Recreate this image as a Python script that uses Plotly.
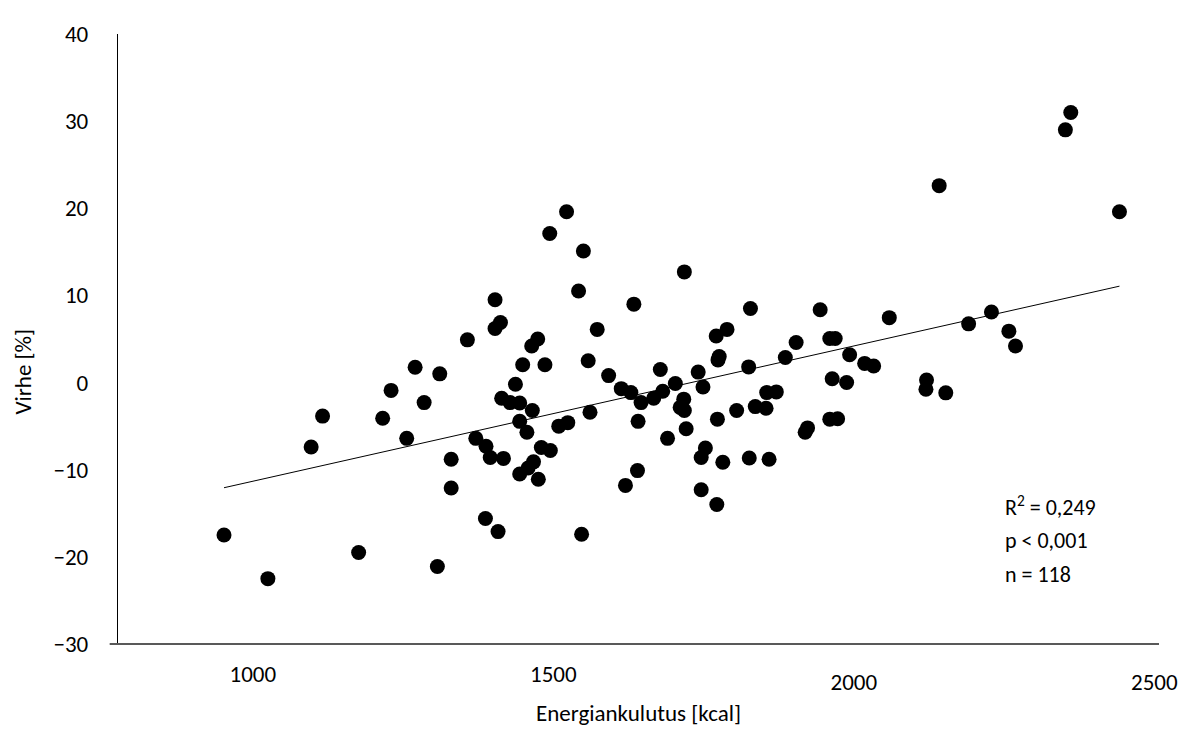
import numpy as np
import plotly.graph_objects as go

# Energy intake (kcal) and error (%)
energy = [952, 1025, 1097, 1116, 1176, 1216, 1230, 1270, 1256, 1285,
          1311, 1330, 1330, 1307, 1357, 1371, 1388, 1395, 1417, 1387,
          1408, 1403, 1412, 1403, 1414, 1428, 1444, 1437, 1449, 1444,
          1456, 1465, 1464, 1474, 1486, 1444, 1458, 1467, 1475, 1480,
          1495, 1509, 1524, 1542, 1573, 1558, 1561, 1547, 1592, 1634,
          1613, 1629, 1646, 1641, 1640, 1620, 1690, 1667, 1678, 1682,
          1703, 1717, 1711, 1718, 1721, 1741, 1749, 1753, 1746, 1746,
          1772, 1771, 1789, 1776, 1774, 1773, 1782, 1805, 1828, 1825,
          1836, 1854, 1826, 1859, 1855, 1871, 1886, 1904, 1923, 1919,
          1944, 1960, 1969, 1964, 1960, 1973, 1993, 1988, 2018, 2033,
          2059, 2121, 2120,
          2142, 2153, 2191, 2229, 2258, 2269, 2442,
          1522, 1494, 1550, 1718, 2352, 2361]
error = [-17.5, -22.5, -7.4, -3.85, -19.5, -4.1, -0.9, 1.75, -6.4, -2.3,
         1.0, -8.8, -12.1, -21.1, 4.9, -6.4, -7.3, -8.6, -8.7, -15.6,
         -17.1, 9.5, 6.9, 6.2, -1.8, -2.3, -2.35, -0.2, 2.05, -4.45,
         -5.7, -3.2, 4.2, 5.0, 2.05, -10.5, -9.8, -9.1, -11.1, -7.45,
         -7.8, -5.0, -4.6, 10.5, 6.1, 2.5, -3.4, -17.4, 0.8, 9.0,
         -0.7, -1.15, -2.3, -4.45, -10.1, -11.8, -6.4, -1.8, 1.5, -1.0,
         -0.1, -1.9, -2.85, -3.2, -5.3, 1.2, -0.5, -7.5, -8.6, -12.3,
         -14.0, 5.35, 6.1, 3.0, 2.6, -4.2, -9.15, -3.2, 8.5, 1.8,
         -2.76, -2.95, -8.65, -8.8, -1.15, -1.07, 2.87, 4.6, -5.2, -5.7,
         8.35, 5.05, 5.05, 0.43, -4.2, -4.15, 3.2, 0.0, 2.2, 1.9,
         7.45, 0.3, -0.77,
         22.6, -1.18, 6.74, 8.1, 5.9, 4.2, 19.6,
         19.6, 17.1, 15.1, 12.7, 29.0, 31.0]

x_ticks_upper = [1000, 1500]
x_ticks_lower = [2000, 2500]
y_ticks = [-30, -20, -10, 0, 10, 20, 30, 40]
x_title = "Energiankulutus [kcal]"
y_title = "Virhe [%]"
stats_lines = ["R<sup>2</sup> = 0,249", "p < 0,001", "n = 118"]

FONT = "Calibri, Carlito, Lato, sans-serif"

x = np.array(energy, dtype=float)
y = np.array(error, dtype=float)
slope, intercept = np.polyfit(x, y, 1)
trend_x = [x.min(), x.max()]
trend_y = [slope * v + intercept for v in trend_x]

fig = go.Figure()
fig.add_trace(go.Scatter(
    x=energy, y=error, mode="markers",
    marker=dict(color="black", size=15, line=dict(width=0)),
    showlegend=False, hoverinfo="x+y"))
fig.add_trace(go.Scatter(
    x=trend_x, y=trend_y, mode="lines", xaxis="x2",
    line=dict(color="black", width=1),
    showlegend=False, hoverinfo="skip"))

xr = [775.6, 2507.8]
tickfont = dict(family=FONT, size=23, color="black")
fig.update_layout(
    width=1182, height=730,
    margin=dict(l=110, r=22.3, t=14, b=94.3),
    paper_bgcolor="white", plot_bgcolor="white",
    font=dict(family=FONT, size=22, color="black"),
    xaxis=dict(range=xr, tickvals=x_ticks_upper, ticks="",
               showline=False, showgrid=False, zeroline=False,
               ticklabelstandoff=14, tickfont=tickfont,
               title=dict(text=x_title, standoff=17,
                          font=dict(family=FONT, size=23, color="black"))),
    xaxis2=dict(range=xr, overlaying="x", anchor="y", side="bottom",
                tickvals=x_ticks_lower, ticks="", showline=False,
                showgrid=False, zeroline=False, ticklabelstandoff=22,
                tickfont=tickfont),
    yaxis=dict(range=[-30, 40], tickvals=y_ticks, ticks="",
               showline=True, linecolor="black", linewidth=1.3,
               showgrid=False, zeroline=False, ticklabelstandoff=24,
               tickfont=tickfont),
    shapes=[dict(type="line", xref="paper", yref="paper",
                 x0=-0.008, x1=1.0, y0=0, y1=0,
                 line=dict(color="#595959", width=2.2), layer="above")],
)

fig.add_annotation(text=y_title, textangle=-90, xref="paper", yref="paper",
                   x=-0.0915, y=0.4463, xanchor="center", yanchor="middle",
                   showarrow=False,
                   font=dict(family=FONT, size=23, color="black"))

ys = [0.226, 0.170, 0.1136]
for txt, yy in zip(stats_lines, ys):
    fig.add_annotation(text=txt, xref="paper", yref="paper", x=0.85, y=yy,
                       xanchor="left", yanchor="middle", showarrow=False,
                       font=dict(family=FONT, size=22, color="black"))

fig.write_html("out.html")
